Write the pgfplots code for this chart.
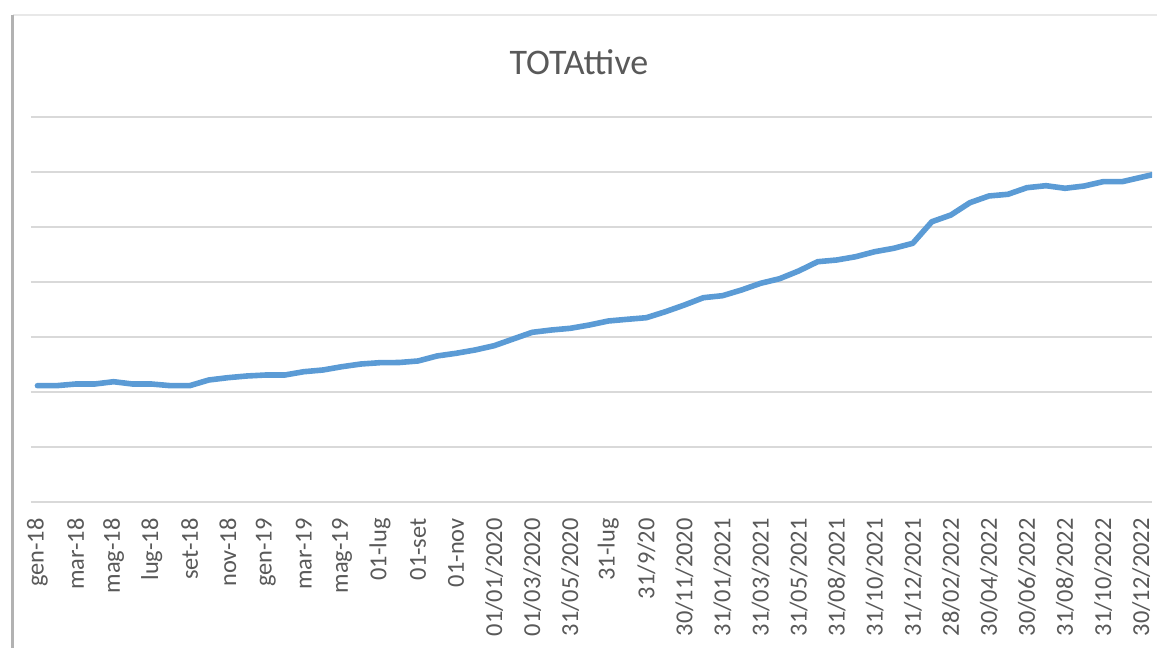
\documentclass[border=0pt]{standalone}
\usepackage{fontspec}
\setmainfont{Carlito}
\usepackage{pgfplots}
\usepackage{pgfplotstable}
\pgfplotsset{compat=1.18}
\definecolor{lineblue}{HTML}{5B9BD5}
\definecolor{txtgray}{HTML}{595959}
\definecolor{gridgray}{HTML}{D9D9D9}
\pgfplotstableread{
x y
0 2.115
1 2.115
2 2.145
3 2.145
4 2.187
5 2.145
6 2.145
7 2.115
8 2.115
9 2.218
10 2.260
11 2.291
12 2.309
13 2.309
14 2.369
15 2.400
16 2.460
17 2.509
18 2.533
19 2.536
20 2.564
21 2.655
22 2.704
23 2.764
24 2.842
25 2.964
26 3.085
27 3.127
28 3.158
29 3.218
30 3.291
31 3.322
32 3.351
33 3.460
34 3.582
35 3.715
36 3.751
37 3.855
38 3.976
39 4.060
40 4.200
41 4.369
42 4.400
43 4.460
44 4.551
45 4.613
46 4.704
47 5.096
48 5.218
49 5.442
50 5.564
51 5.595
52 5.715
53 5.751
54 5.704
55 5.745
56 5.824
57 5.824
58 5.904
59 5.982
}\datatable
\begin{document}
\begin{tikzpicture}
\useasboundingbox (0,0) rectangle (578.5pt,324pt);
\draw[gray!18, line width=1pt] (6.25pt,316.5pt) -- (578.5pt,316.5pt);
\draw[gray!60, line width=1.5pt] (6.25pt,0) -- (6.25pt,316.5pt);
\node[font=\fontsize{18}{20}\selectfont, text=txtgray] at (289.5pt,293pt) {TOTAttive};
\begin{axis}[
  at={(15.5pt,73pt)}, anchor=south west,
  width=560.5pt, height=192.5pt, scale only axis,
  xmin=-0.34, xmax=58.57, ymin=0, ymax=7,
  axis line style={draw=none},
  ytick={0,1,...,7}, yticklabels={},
  ymajorgrids, major grid style={gridgray, line width=0.8pt},
  major tick length=0pt,
  xtick={0,2,...,58},
  xticklabels={gen-18,mar-18,mag-18,lug-18,set-18,nov-18,gen-19,mar-19,mag-19,01-lug,01-set,01-nov,01/01/2020,01/03/2020,31/05/2020,31-lug,31/9/20,30/11/2020,31/01/2021,31/03/2021,31/05/2021,31/08/2021,31/10/2021,31/12/2021,28/02/2022,30/04/2022,30/06/2022,31/08/2022,31/10/2022,30/12/2022},
  xticklabel style={rotate=90, anchor=east, font=\fontsize{12.2}{13}\selectfont, text=txtgray, inner sep=0pt},
  xticklabel shift=8pt,
]
\addplot[color=lineblue, line width=2.8pt, line join=round, line cap=round] table[x=x,y=y] {\datatable};
\end{axis}
\end{tikzpicture}
\end{document}
